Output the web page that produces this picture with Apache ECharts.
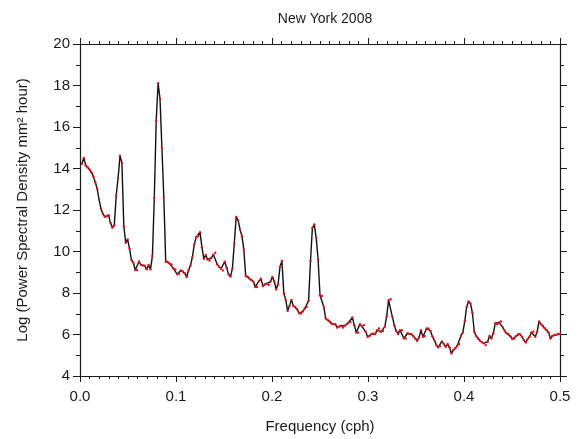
<!DOCTYPE html>
<html>
<head>
<meta charset="utf-8">
<script src="https://cdn.jsdelivr.net/npm/echarts@6/dist/echarts.min.js"></script>
<style>
  html, body { margin: 0; padding: 0; background: #fff; }
  #chart { width: 579px; height: 439px; }
</style>
</head>
<body>
<div id="chart"></div>
<script>
// log power spectral density, split by frequency band
const psdBand1 = [14.23, 14.51, 14.15, 14.06, 13.95, 13.82, 13.62, 13.34, 13.03, 12.5,
  12.06, 11.82, 11.67, 11.70, 11.75, 11.38, 11.16, 11.27, 12.70, 13.55,
  14.62, 14.27, 11.22, 10.42, 10.58, 10.13, 9.59, 9.46, 9.11, 9.11,
  9.52, 9.35, 9.33, 9.32, 9.14, 9.35, 9.14, 9.78, 12.58, 16.30,
  18.11, 17.36, 14.99, 12.61, 9.51, 9.51, 9.43, 9.38, 9.19, 9.14, 8.91];
const psdBand2 = [8.93, 9.09, 9.04, 8.95, 8.77, 9.11, 9.33, 9.73, 10.34, 10.69,
  10.74, 10.93, 10.21, 9.65, 9.83, 9.61, 9.57, 9.70, 9.85, 9.94,
  9.38, 9.27, 9.17, 9.09, 9.51, 9.22, 8.90, 8.79, 9.17, 10.39,
  11.67, 11.51, 11.06, 10.74, 10.10, 8.82, 8.79, 8.69, 8.63, 8.55,
  8.29, 8.29, 8.58, 8.69, 8.34, 8.43, 8.45, 8.40, 8.55, 8.77, 8.56, 8.18];
const psdBand3 = [8.42, 9.27, 9.54, 7.99, 7.67, 7.14, 7.38, 7.67, 7.38, 7.33,
  7.22, 7.03, 7.01, 7.11, 7.25, 7.33, 7.62, 9.54, 11.14, 11.30,
  10.66, 9.62, 7.89, 7.86, 7.33, 6.77, 6.70, 6.63, 6.53, 6.50,
  6.50, 6.34, 6.39, 6.42, 6.34, 6.42, 6.50, 6.58, 6.61, 6.82,
  6.45, 6.10, 6.10, 6.50, 6.39, 6.45, 6.13, 5.89, 5.93, 6.02];
const psdBand4 = [6.05, 6.02, 6.21, 6.29, 6.13, 6.17, 6.37, 6.87, 7.65, 7.70,
  6.85, 6.45, 6.17, 6.02, 6.21, 6.21, 5.82, 5.81, 6.06, 6.02,
  6.02, 5.93, 5.81, 5.70, 5.86, 6.21, 5.89, 5.93, 6.29, 6.29,
  6.17, 5.91, 5.73, 5.50, 5.38, 5.45, 5.67, 5.54, 5.41, 5.54,
  5.38, 5.09, 5.25, 5.34, 5.45, 5.54, 5.93, 6.10, 6.65, 7.33, 7.59];
const psdBand5 = [7.49, 7.06, 6.13, 5.93, 5.81, 5.70, 5.62, 5.58, 5.49, 5.65,
  5.93, 5.81, 6.06, 6.54, 6.50, 6.58, 6.63, 6.34, 6.17, 6.06,
  6.02, 5.91, 5.78, 5.81, 5.93, 6.02, 6.02, 5.89, 5.74, 5.62,
  5.78, 5.89, 6.10, 6.13, 5.89, 6.13, 6.63, 6.50, 6.42, 6.30,
  6.22, 6.10, 5.81, 5.93, 5.98, 5.98, 6.03, 6.03];

const psd = psdBand1.concat(psdBand2, psdBand3, psdBand4, psdBand5);
const freqStart = 0.002;
const freqEnd = 0.5;
const freqStep = (freqEnd - freqStart) / (psd.length - 1);
const points = psd.map((v, i) => [freqStart + i * freqStep, v]);

const font = 'Liberation Sans, Arial, Helvetica, sans-serif';
const ink = '#1a1a1a';

function xAx(pos, showLabel) {
  return {
    type: 'value', position: pos, min: 0, max: 0.5, interval: 0.1,
    name: showLabel ? 'Frequency (cph)' : '',
    nameLocation: 'middle', nameGap: 43,
    nameTextStyle: { fontFamily: font, fontSize: 15, color: ink },
    axisLine: { show: true, onZero: false, lineStyle: { color: ink, width: 1.2 } },
    axisTick: { show: true, length: 6, lineStyle: { color: ink, width: 1 } },
    minorTick: { show: true, splitNumber: 10, length: 3, lineStyle: { color: ink, width: 1 } },
    axisLabel: { show: showLabel, margin: 13, fontFamily: font, fontSize: 15, color: ink,
      formatter: v => v.toFixed(1) },
    splitLine: { show: false }
  };
}

function yAx(pos, showLabel) {
  return {
    type: 'value', position: pos, min: 4, max: 20, interval: 2,
    name: showLabel ? 'Log (Power Spectral Density mm\u00B2 hour)' : '',
    nameLocation: 'middle', nameGap: 50,
    nameTextStyle: { fontFamily: font, fontSize: 15, color: ink },
    axisLine: { show: true, onZero: false, lineStyle: { color: ink, width: 1.2 } },
    axisTick: { show: true, length: 7, lineStyle: { color: ink, width: 1 } },
    minorTick: { show: true, splitNumber: 2, length: 4, lineStyle: { color: ink, width: 1 } },
    axisLabel: { show: showLabel, margin: 10, fontFamily: font, fontSize: 15, color: ink },
    splitLine: { show: false }
  };
}

const chart = echarts.init(document.getElementById('chart'), null, { renderer: 'canvas' });
chart.setOption({
  animation: false,
  backgroundColor: '#fff',
  title: {
    text: 'New York 2008', left: 320, top: 7, textAlign: 'center',
    textStyle: { fontFamily: font, fontSize: 14, fontWeight: 'normal', color: ink }
  },
  grid: { left: 80, right: 19, top: 44, bottom: 62 },
  xAxis: [xAx('bottom', true), xAx('top', false)],
  yAxis: [yAx('left', true), yAx('right', false)],
  series: [{
    type: 'line',
    data: points,
    showSymbol: true,
    symbol: 'circle',
    symbolSize: 2.4,
    itemStyle: { color: '#e3141c', borderWidth: 0 },
    lineStyle: { color: '#111', width: 1.4 }
  }]
});
</script>
</body>
</html>
